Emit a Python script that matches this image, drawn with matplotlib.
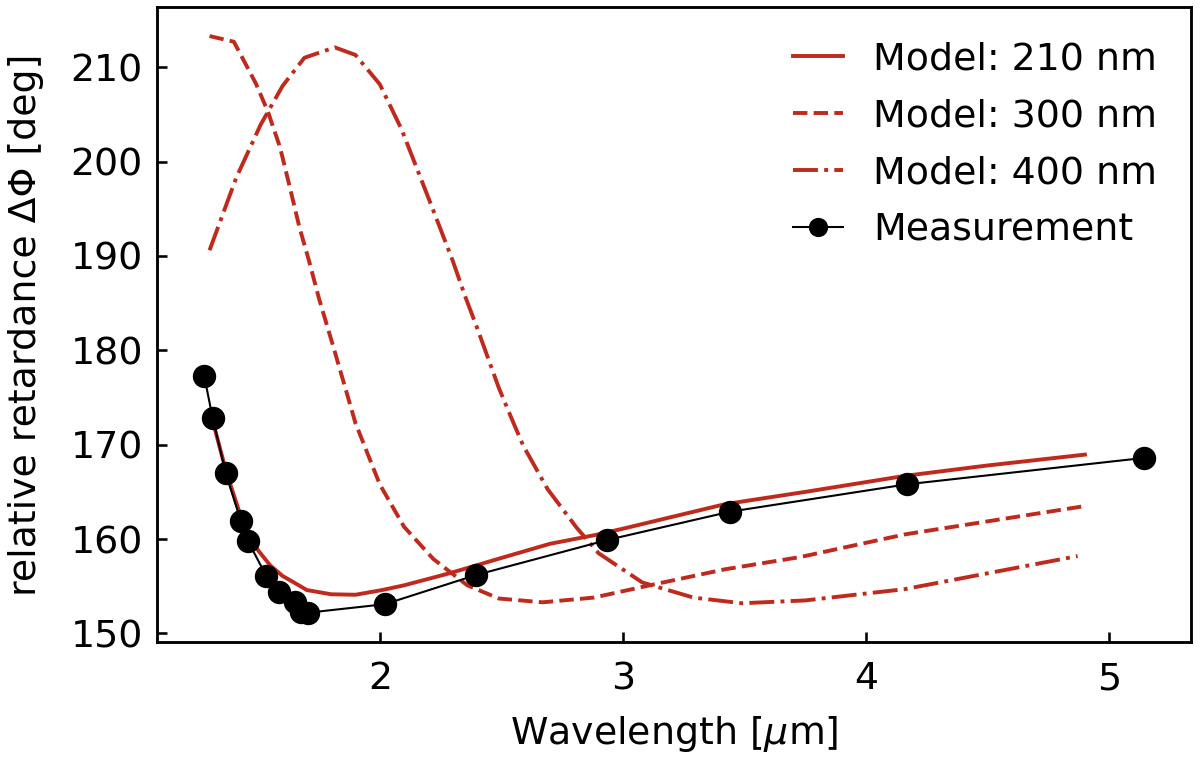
import matplotlib
matplotlib.use("Agg")
import matplotlib.pyplot as plt

# Measurement
meas_x = [1.278, 1.313, 1.367, 1.429, 1.459, 1.534, 1.586, 1.651, 1.678, 1.705,
          2.021, 2.397, 2.935, 3.440, 4.167, 5.143]
meas_y = [177.3, 172.8, 166.95, 161.9, 159.75, 156.05, 154.4, 153.3, 152.25, 152.2,
          153.1, 156.2, 159.9, 162.9, 165.8, 168.6]

# Model: 210 nm
m210_x = [1.31, 1.37, 1.43, 1.47, 1.50, 1.55, 1.60, 1.67, 1.70, 1.80, 1.90, 2.01,
          2.10, 2.29, 2.50, 2.70, 2.88, 3.00, 3.42, 3.75, 4.16, 4.50, 4.90]
m210_y = [172.8, 167.0, 162.3, 160.3, 158.8, 157.2, 156.1, 155.06, 154.6, 154.15, 154.1, 154.6,
          155.1, 156.4, 158.0, 159.5, 160.4, 161.1, 163.7, 165.0, 166.7, 167.8, 168.95]

# Model: 300 nm
m300_x = [1.30, 1.40, 1.49, 1.54, 1.59, 1.63, 1.67, 1.71, 1.75, 1.81, 1.90, 2.00,
          2.10, 2.22, 2.36, 2.49, 2.67, 2.88, 3.11, 3.42, 3.73, 4.16, 4.90]
m300_y = [213.3, 212.7, 208.3, 205.3, 201.5, 197.3, 193.0, 189.4, 185.5, 180.3, 172.3, 165.8,
          161.3, 157.9, 155.1, 153.7, 153.3, 153.8, 155.1, 156.8, 158.1, 160.5, 163.5]

# Model: 400 nm
m400_x = [1.30, 1.41, 1.51, 1.60, 1.69, 1.815, 1.90, 2.00, 2.09, 2.21, 2.30, 2.35,
          2.40, 2.49, 2.55, 2.59, 2.69, 2.81, 2.90, 3.08, 3.29, 3.49, 3.75, 4.16, 4.87]
m400_y = [190.6, 198.3, 203.9, 208.0, 211.0, 212.1, 211.3, 208.2, 203.4, 195.5, 189.5, 185.8,
          182.4, 176.0, 172.3, 169.9, 165.3, 161.2, 158.5, 155.4, 153.8, 153.2, 153.5, 154.7, 158.2]

labels = ["Model: 210 nm", "Model: 300 nm", "Model: 400 nm", "Measurement"]
red = "#bf2a1c"

plt.rcParams['font.family'] = ['DejaVu Sans']
plt.rcParams['font.size'] = 14.6

fig = plt.figure(figsize=(1200 / 187, 761 / 187), dpi=187)
ax = fig.add_axes([0.131, 0.157, 0.8615, 0.8335])

ax.plot(m210_x, m210_y, '-', color=red, lw=1.5, label=labels[0])
ax.plot(m300_x, m300_y, '--', color=red, lw=1.5, label=labels[1])
ax.plot(m400_x, m400_y, '-.', color=red, lw=1.5, label=labels[2])
ax.plot(meas_x, meas_y, '-o', color='black', lw=0.8, ms=8, label=labels[3])

ax.set_xlabel(r"Wavelength [$\mu$m]", labelpad=6.5)
ax.set_ylabel("relative retardance ΔΦ [deg]", labelpad=10)
ax.set_xticks([2, 3, 4, 5])
ax.set_yticks([150, 160, 170, 180, 190, 200, 210])
ax.tick_params(direction='in', length=4, width=1.0)
ax.tick_params(axis='x', pad=7.5)
ax.tick_params(axis='y', pad=5.5)
for s in ax.spines.values():
    s.set_linewidth(1.1)

ax.legend(loc='upper right', frameon=False, handlelength=1.3, labelspacing=0.55,
          markerscale=0.8)

fig.savefig("out.png", dpi=187)
